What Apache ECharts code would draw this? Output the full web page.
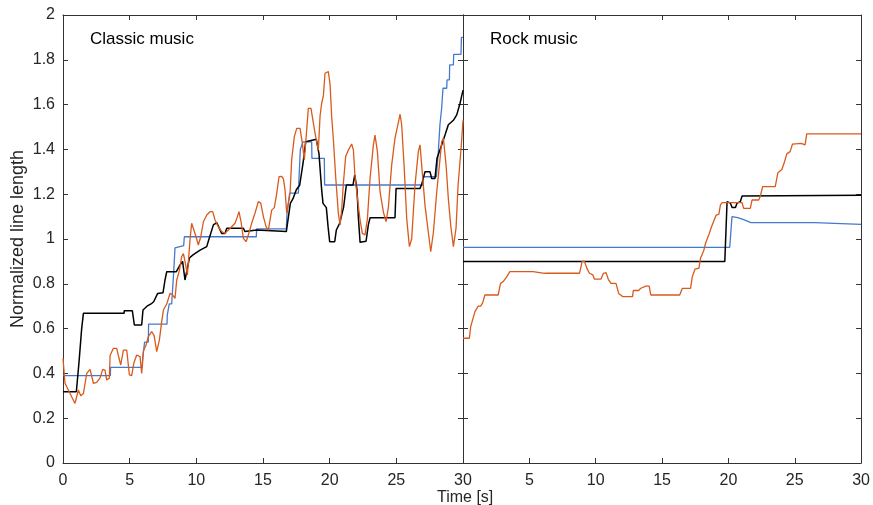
<!DOCTYPE html>
<html>
<head>
<meta charset="utf-8">
<script src="https://cdn.jsdelivr.net/npm/echarts@6/dist/echarts.min.js"></script>
<style>
  html, body { margin: 0; padding: 0; background: #fff; }
  #chart { width: 873px; height: 505px; }
</style>
</head>
<body>
<div id="chart"></div>
<script>
// 数据: [时间 s, 归一化线长]
const classicBlue = [
  [0, 0.39], [3.55, 0.39], [3.57, 0.427], [5.95, 0.427], [5.97, 0.463], [6.1, 0.463], [6.12, 0.54],
  [6.4, 0.54], [6.42, 0.62], [7.8, 0.62], [7.82, 0.66], [7.95, 0.66], [7.97, 0.71], [8.15, 0.71],
  [8.3, 0.85], [8.4, 0.96], [9.05, 0.97], [9.1, 1.01], [14.5, 1.01], [14.52, 1.045], [16.75, 1.045],
  [16.8, 1.115], [17.0, 1.205], [17.65, 1.205], [17.8, 1.40], [18.0, 1.434], [18.65, 1.434],
  [18.67, 1.36], [19.6, 1.36], [19.62, 1.241], [27.0, 1.241], [27.02, 1.278], [28.0, 1.278],
  [28.15, 1.39], [28.27, 1.51], [28.4, 1.585], [28.5, 1.673], [28.78, 1.673], [28.8, 1.71],
  [28.98, 1.71], [29.0, 1.777], [29.28, 1.777], [29.3, 1.824], [29.85, 1.824], [29.88, 1.90], [30, 1.90]
]

const classicBlack = [
  [0, 0.318], [1.0, 0.318], [1.2, 0.45], [1.4, 0.6], [1.53, 0.668], [4.58, 0.668], [4.6, 0.68],
  [5.2, 0.68], [5.35, 0.616], [5.9, 0.616], [6.0, 0.683], [6.3, 0.70], [6.6, 0.71], [6.8, 0.72],
  [7.1, 0.757], [7.5, 0.76], [7.65, 0.817], [7.78, 0.854], [8.5, 0.854], [8.78, 0.884], [8.97, 0.90],
  [9.15, 0.817], [9.48, 0.915], [9.75, 0.929], [10.28, 0.95], [10.78, 0.966], [11.0, 1.01],
  [11.28, 1.063], [11.53, 1.073], [11.9, 1.025], [12.15, 1.025], [12.28, 1.048], [13.53, 1.048],
  [13.65, 1.033], [14.53, 1.04], [16.75, 1.033], [17.05, 1.159], [17.25, 1.18], [17.5, 1.22],
  [17.75, 1.24], [18.0, 1.338], [18.2, 1.434], [19.0, 1.445], [19.2, 1.38], [19.4, 1.219],
  [19.5, 1.159], [19.75, 1.14], [19.88, 1.055], [20.0, 0.988], [20.38, 0.988], [20.5, 1.04],
  [20.75, 1.07], [21.05, 1.144], [21.25, 1.241], [21.75, 1.241], [21.88, 1.286], [22.0, 1.286],
  [22.05, 1.22], [22.15, 1.10], [22.28, 0.985], [22.73, 0.99], [22.9, 1.063], [23.03, 1.095],
  [24.9, 1.095], [24.98, 1.226], [26.78, 1.226], [26.9, 1.244], [27.15, 1.30], [27.53, 1.30],
  [27.65, 1.27], [27.9, 1.27], [28.05, 1.36], [28.4, 1.42], [28.65, 1.464], [28.9, 1.51],
  [29.28, 1.53], [29.53, 1.554], [29.78, 1.606], [30, 1.665]
]

const classicOrange = [
  [0, 0.467], [0.15, 0.356], [0.4, 0.326], [0.65, 0.296], [0.9, 0.266], [1.15, 0.326], [1.33, 0.30],
  [1.53, 0.31], [1.78, 0.40], [2.03, 0.418], [2.28, 0.356], [2.53, 0.36], [2.78, 0.38], [2.98, 0.418],
  [3.15, 0.415], [3.28, 0.37], [3.48, 0.38], [3.53, 0.48], [3.78, 0.512], [4.03, 0.512], [4.15, 0.48],
  [4.33, 0.4375], [4.53, 0.504], [4.78, 0.504], [4.98, 0.393], [5.15, 0.39], [5.33, 0.45],
  [5.53, 0.482], [5.78, 0.475], [5.9, 0.40], [6.03, 0.50], [6.23, 0.527], [6.4, 0.564],
  [6.65, 0.586], [6.83, 0.57], [7.03, 0.497], [7.23, 0.55], [7.4, 0.63], [7.53, 0.683], [7.78, 0.71],
  [8.03, 0.758], [8.23, 0.75], [8.4, 0.735], [8.53, 0.817], [8.73, 0.86], [8.9, 0.921], [9.03, 0.935],
  [9.15, 0.90], [9.33, 0.84], [9.53, 1.0], [9.65, 1.07], [9.78, 1.07], [9.98, 1.01], [10.15, 0.973],
  [10.33, 1.01], [10.53, 1.077], [10.78, 1.107], [11.03, 1.122], [11.23, 1.122], [11.4, 1.085],
  [11.65, 1.055], [11.9, 1.033], [12.15, 1.025], [12.4, 1.04], [12.65, 1.055], [12.9, 1.07],
  [13.08, 1.10], [13.2, 1.122], [13.35, 1.078], [13.53, 1.003], [13.73, 0.988], [13.9, 1.018],
  [14.15, 1.07], [14.4, 1.115], [14.65, 1.167], [14.83, 1.16], [15.03, 1.10], [15.23, 1.055],
  [15.4, 1.04], [15.65, 1.129], [15.85, 1.14], [16.03, 1.204], [16.2, 1.278], [16.4, 1.28],
  [16.53, 1.268], [16.65, 1.22], [16.78, 1.115], [16.9, 1.11], [17.03, 1.205], [17.15, 1.353],
  [17.35, 1.457], [17.53, 1.494], [17.78, 1.494], [17.95, 1.427], [18.1, 1.353], [18.28, 1.49],
  [18.4, 1.583], [18.6, 1.583], [18.78, 1.516], [18.95, 1.457], [19.15, 1.397], [19.28, 1.55],
  [19.4, 1.606], [19.53, 1.64], [19.65, 1.74], [19.9, 1.747], [20.03, 1.69], [20.15, 1.546],
  [20.28, 1.442], [20.45, 1.278], [20.65, 1.115], [20.78, 1.063], [20.9, 1.13], [21.03, 1.25],
  [21.2, 1.368], [21.4, 1.397], [21.65, 1.424], [21.78, 1.397], [21.9, 1.278], [22.1, 1.174],
  [22.28, 1.085], [22.45, 1.025], [22.65, 1.018], [22.83, 1.09], [23.03, 1.271], [23.28, 1.42],
  [23.4, 1.464], [23.58, 1.39], [23.78, 1.21], [24.03, 1.12], [24.23, 1.078], [24.4, 1.14],
  [24.65, 1.33], [24.9, 1.45], [25.15, 1.52], [25.28, 1.557], [25.4, 1.51], [25.58, 1.33],
  [25.78, 1.09], [25.98, 0.966], [26.15, 1.0], [26.4, 1.24], [26.65, 1.39], [26.78, 1.42],
  [26.9, 1.33], [27.15, 1.15], [27.4, 1.03], [27.58, 0.943], [27.78, 1.03], [28.03, 1.21],
  [28.28, 1.36], [28.4, 1.434], [28.53, 1.45], [28.73, 1.33], [28.9, 1.18], [29.08, 1.06],
  [29.28, 0.966], [29.48, 1.05], [29.63, 1.24], [29.85, 1.4], [30, 1.53]
]

const rockBlue = [
  [0, 0.963], [20.1, 0.963], [20.27, 1.10], [20.7, 1.095], [21.2, 1.085], [21.7, 1.073],
  [26.5, 1.073], [26.65, 1.065], [30, 1.065]
]

const rockBlack = [
  [0, 0.90], [19.73, 0.90], [19.9, 1.167], [20.15, 1.16], [20.28, 1.141], [20.53, 1.141],
  [20.65, 1.16], [20.9, 1.167], [21.03, 1.192], [30, 1.195]
]

const rockOrange = [
  [0, 0.557], [0.48, 0.557], [0.58, 0.609], [0.73, 0.64], [0.9, 0.676], [1.15, 0.70], [1.33, 0.70],
  [1.48, 0.715], [1.65, 0.75], [2.65, 0.75], [2.83, 0.802], [3.03, 0.81], [3.28, 0.83], [3.53, 0.854],
  [5.28, 0.854], [6.15, 0.847], [8.78, 0.847], [8.98, 0.90], [9.15, 0.90], [9.33, 0.87],
  [9.53, 0.847], [9.78, 0.84], [9.9, 0.821], [10.4, 0.821], [10.58, 0.847], [10.78, 0.85],
  [10.95, 0.82], [11.15, 0.802], [11.53, 0.802], [11.73, 0.757], [12.03, 0.743], [12.78, 0.743],
  [12.83, 0.77], [13.23, 0.77], [13.4, 0.78], [13.78, 0.79], [14.03, 0.79], [14.15, 0.75],
  [16.33, 0.75], [16.53, 0.78], [17.15, 0.78], [17.28, 0.832], [17.48, 0.865], [17.78, 0.87],
  [17.9, 0.914], [18.15, 0.95], [18.28, 0.981], [18.53, 1.02], [18.73, 1.055], [18.9, 1.08],
  [19.08, 1.107], [19.28, 1.11], [19.4, 1.152], [19.53, 1.162], [21.03, 1.162], [21.15, 1.137],
  [21.65, 1.137], [21.78, 1.174], [22.28, 1.174], [22.4, 1.19], [22.58, 1.234], [23.53, 1.234],
  [23.73, 1.296], [24.03, 1.31], [24.23, 1.345], [24.4, 1.38], [24.65, 1.39], [24.83, 1.424],
  [25.48, 1.427], [25.78, 1.42], [25.9, 1.469], [30, 1.469]
]

const xTicks = { min: 0, max: 30, interval: 5 }
const yTicks = { min: 0, max: 2, interval: 0.2 }

const font = 'Liberation Sans, Arial, Helvetica, sans-serif'
const axisColor = '#333333'
const textColor = '#262626'
const blue = '#4479cc'
const orange = '#d95a1c'
const black = '#000000'

const chart = echarts.init(document.getElementById('chart'), null, { renderer: 'canvas' })

function xAxisOf(gridIndex, position, showLabel, hideMin) {
  return {
    type: 'value', gridIndex: gridIndex, position: position,
    min: xTicks.min, max: xTicks.max, interval: xTicks.interval,
    axisLine: { show: true, onZero: false, lineStyle: { color: axisColor, width: 1 } },
    axisTick: { show: true, inside: true, length: 5, lineStyle: { color: axisColor } },
    axisLabel: {
      show: showLabel, margin: 10, fontSize: 16, color: textColor, fontFamily: font,
      showMinLabel: !hideMin
    },
    splitLine: { show: false }
  }
}

function yAxisOf(gridIndex, position, showLabel) {
  return {
    type: 'value', gridIndex: gridIndex, position: position,
    min: yTicks.min, max: yTicks.max, interval: yTicks.interval,
    axisLine: { show: true, onZero: false, lineStyle: { color: axisColor, width: 1 } },
    axisTick: { show: true, inside: true, length: 5, lineStyle: { color: axisColor } },
    axisLabel: {
      show: showLabel, margin: 8, fontSize: 16, color: textColor, fontFamily: font,
      formatter: function (v) { return String(Math.round(v * 10) / 10) }
    },
    splitLine: { show: false }
  }
}

function lineOf(name, data, color, width, axisIdx) {
  return {
    name: name, type: 'line', data: data,
    xAxisIndex: axisIdx[0], yAxisIndex: axisIdx[1],
    showSymbol: false, symbol: 'none', animation: false,
    lineStyle: { color: color, width: width },
    itemStyle: { color: color },
    z: 3
  }
}

let yMain = yAxisOf(0, 'left', true)
yMain.name = 'Normalized line length'
yMain.nameLocation = 'middle'
yMain.nameGap = 36
yMain.nameTextStyle = { fontSize: 18, color: textColor, fontFamily: font }

let option = {
  animation: false,
  backgroundColor: '#ffffff',
  grid: [
    { left: 63, top: 15, width: 400, height: 448 },
    { left: 463, top: 15, width: 400, height: 448 }
  ],
  xAxis: [
    xAxisOf(0, 'bottom', true, false),
    xAxisOf(1, 'bottom', true, true),
    xAxisOf(0, 'top', false, false),
    xAxisOf(1, 'top', false, false)
  ],
  yAxis: [
    yMain,
    yAxisOf(0, 'right', false),
    yAxisOf(1, 'left', false),
    yAxisOf(1, 'right', false)
  ],
  graphic: [
    { type: 'text', left: 90, top: 31, style: { text: 'Classic music', fontSize: 17, fill: '#000', fontFamily: font } },
    { type: 'text', left: 490, top: 31, style: { text: 'Rock music', fontSize: 17, fill: '#000', fontFamily: font } },
    { type: 'text', left: 437, top: 490, style: { text: 'Time [s]', fontSize: 16, fill: textColor, fontFamily: font } }
  ],
  series: [
    lineOf('classic-blue', classicBlue, blue, 1.3, [0, 0]),
    lineOf('classic-black', classicBlack, black, 1.5, [0, 0]),
    lineOf('classic-orange', classicOrange, orange, 1.3, [0, 0]),
    lineOf('rock-blue', rockBlue, blue, 1.3, [1, 2]),
    lineOf('rock-black', rockBlack, black, 1.5, [1, 2]),
    lineOf('rock-orange', rockOrange, orange, 1.3, [1, 2])
  ]
}

chart.setOption(option)
</script>
</body>
</html>
